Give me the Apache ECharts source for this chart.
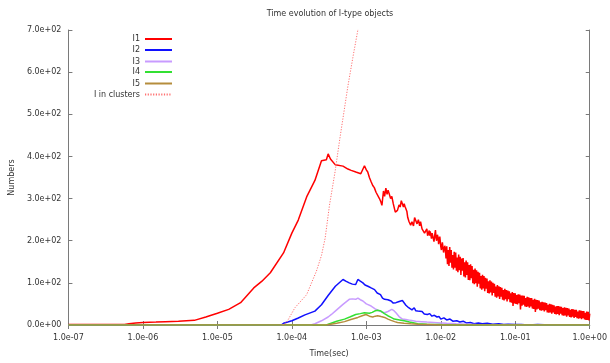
<!DOCTYPE html>
<html>
<head>
<meta charset="utf-8">
<script src="https://cdn.jsdelivr.net/npm/echarts@6/dist/echarts.min.js"></script>
<style>html,body{margin:0;padding:0;background:#fff}#c{width:610px;height:363px}</style>
</head>
<body>
<div id="c"></div>
<script>
const TITLE = 'Time evolution of I-type objects';
const X_NAME = 'Time(sec)';
const Y_NAME = 'Numbers';
const NAMES = ['I1', 'I2', 'I3', 'I4', 'I5', 'I in clusters'];

const I1 = [[1e-7,1],[2e-7,1],[3e-7,1],[5.7e-7,1],[6.5e-7,3],[8e-7,5],[1.0e-6,6],[1.5e-6,7],[2.0e-6,8],[3.0e-6,9],[4.9e-6,11],[7.0e-6,19],[1.0e-5,28],[1.42e-5,37],[2.05e-5,53],[3.08e-5,88],[3.97e-5,104],[5.14e-5,124],[7.73e-5,171],[1.0e-4,218],[1.22e-4,249],[1.58e-4,304],[2.04e-4,343],[2.5e-4,390],[2.91e-4,392],[3.07e-4,406],[3.3e-4,394],[3.84e-4,380],[4.86e-4,377],[5.66e-4,370],[6.26e-4,367],[7.23e-4,363],[8.43e-4,359],[9.44e-4,378],
[1.0e-3,368],[1.045e-3,363],[1.1e-3,350],[1.16e-3,340],[1.22e-3,331],[1.28e-3,326],[1.35e-3,315],[1.42e-3,312],[1.5e-3,300],[1.57e-3,292],[1.62e-3,284],[1.7e-3,318],[1.76e-3,305],[1.83e-3,325],[1.9e-3,310],[1.96e-3,320],[2.03e-3,316],[2.12e-3,300],[2.2e-3,305],[2.3e-3,288],[2.37e-3,284],[2.45e-3,268],[2.55e-3,272],[2.62e-3,272],[2.75e-3,285],[2.85e-3,280],[2.95e-3,295],[3.05e-3,292],[3.15e-3,280],[3.22e-3,288],[3.3e-3,282],[3.38e-3,284],[3.5e-3,270],[3.6e-3,255],[3.75e-3,245],[3.94e-3,237],[4.1e-3,245],[4.3e-3,235],[4.45e-3,255],[4.59e-3,253],[4.8e-3,240],[5.0e-3,250],[5.2e-3,235],[5.35e-3,245],[5.6e-3,228],[5.85e-3,232],[6.05e-3,218],[6.24e-3,214],[6.5e-3,228],[6.65e-3,212],[6.8e-3,210],[7.0e-3,224],[7.1e-3,212],[7.21e-3,222],[7.5e-3,205],[7.65e-3,218],[7.8e-3,215],[8.1e-3,198],[8.3e-3,214],[8.48e-3,225],[8.65e-3,205],[8.8e-3,200],[9.0e-3,214],[9.2e-3,208],[9.35e-3,192],[9.5e-3,190],[9.7e-3,210],[9.88e-3,206],[1.0e-2,186],[1.02e-2,178],[1.05e-2,196],[1.07e-2,195],[1.09e-2,172],[1.1e-2,170],[1.13e-2,188],[1.15e-2,182],[1.175e-2,158],
[0.01202,187],[0.01230,144],[0.01259,178],[0.01288,140],[0.01318,185],[0.01349,148],[0.01380,178],[0.01413,136],[0.01445,166],[0.01479,132],[0.01514,174],[0.01549,136],[0.01585,172],[0.01622,129],[0.01660,160],[0.01698,125],[0.01738,167],[0.01778,130],[0.01820,162],[0.01862,119],[0.01905,158],[0.01950,129],[0.01995,159],[0.02042,115],[0.02089,149],[0.02138,113],[0.02188,153],[0.02239,119],[0.02291,149],[0.02344,107],[0.02399,142],[0.02455,106],[0.02512,144],[0.02570,111],[0.02630,140],[0.02692,99],[0.02754,131],[0.02818,97],[0.02884,134],[0.02951,99],[0.03020,130],[0.03090,91],[0.03162,126],[0.03236,98],[0.03311,124],[0.03388,87],[0.03467,116],[0.03548,84],[0.03631,119],[0.03715,87],[0.03802,116],[0.03890,80],[0.03981,112],[0.04074,86],[0.04169,110],[0.04266,76],[0.04365,104],[0.04467,75],[0.04571,106],[0.04677,77],[0.04786,103],[0.04898,70],[0.05012,100],[0.05129,76],[0.05248,98],[0.05370,67],[0.05495,91],[0.05623,65],[0.05754,95],[0.05888,68],[0.06026,92],[0.06166,62],[0.06310,90],[0.06457,67],[0.06607,88],[0.06761,60],[0.06918,83],[0.07079,58],[0.07244,86],[0.07413,61],[0.07586,83],[0.07762,56],[0.07943,82],[0.08128,61],[0.08318,80],[0.08511,54],[0.08710,75],[0.08913,53],[0.09120,78],[0.09333,45],[0.09550,76],[0.09772,51],
[0.1000,75],[0.1023,50],[0.1047,71],[0.1072,49],[0.1096,73],[0.1122,52],[0.1148,72],[0.1175,37],[0.1202,70],[0.1230,46],[0.1259,70],[0.1288,48],[0.1318,69],[0.1349,44],[0.1380,64],[0.1413,43],[0.1445,67],[0.1479,44],[0.1514,66],[0.1549,41],[0.1585,64],[0.1622,44],[0.1660,64],[0.1698,39],[0.1738,60],[0.1778,38],[0.1820,62],[0.1862,31],[0.1905,60],[0.1950,37],[0.1995,59],[0.2042,39],[0.2089,58],[0.2138,35],[0.2188,54],[0.2239,34],[0.2291,55],[0.2344,35],[0.2399,54],[0.2455,32],[0.2512,53],[0.2570,35],[0.2630,52],[0.2692,30],[0.2754,48],[0.2818,29],[0.2884,50],[0.2951,30],[0.3020,49],[0.3090,27],[0.3162,48],[0.3236,30],[0.3311,47],[0.3388,26],[0.3467,44],[0.3548,25],[0.3631,45],[0.3715,26],[0.3802,45],[0.3890,23],[0.3981,44],[0.4074,27],[0.4169,43],[0.4266,23],[0.4365,40],[0.4467,22],[0.4571,42],[0.4677,23],[0.4786,41],[0.4898,20],[0.5012,40],[0.5129,23],[0.5248,39],[0.5370,19],[0.5495,36],[0.5623,18],[0.5754,38],[0.5888,20],[0.6026,37],[0.6166,17],[0.6310,36],[0.6457,19],[0.6607,36],[0.6761,16],[0.6918,32],[0.7079,15],[0.7244,35],[0.7413,16],[0.7586,34],[0.7762,14],[0.7943,33],[0.8128,16],[0.8318,33],[0.8511,13],[0.8710,29],[0.8913,12],[0.9120,32],[0.9333,12],[0.9550,31],[0.9772,11],[1.000,27]];

const I2 = [[1e-7,0],[7.2e-5,0],[7.73e-5,4],[1.0e-4,10],[1.2e-4,16],[1.5e-4,24],[2.04e-4,33],[2.5e-4,48],[3.07e-4,70],[3.84e-4,92],[4.86e-4,108],[5.3e-4,104],[5.9e-4,100],[6.5e-4,97],[7.2e-4,96],[7.7e-4,108],[8.3e-4,104],[9.0e-4,100],[9.6e-4,95],[1.05e-3,92],[1.16e-3,88],[1.29e-3,84],[1.4e-3,76],[1.55e-3,72],[1.65e-3,64],[1.76e-3,61],[1.83e-3,65],[1.95e-3,60],[2.15e-3,57],[2.3e-3,52],[2.5e-3,53],[2.7e-3,55],[2.85e-3,51],[3.05e-3,58],[3.22e-3,55],[3.4e-3,47],[3.7e-3,41],[3.9e-3,44],[4.1e-3,36],[4.4e-3,41],[4.6e-3,34],[4.9e-3,33],[5.2e-3,30],[5.6e-3,32],[6.0e-3,26],[6.6e-3,25],[7.1e-3,27],[7.6e-3,21],[8.2e-3,23],[8.9e-3,19],[9.5e-3,20],[1.0e-2,14],[1.1e-2,17],[1.2e-2,12],[1.33e-2,14],[1.45e-2,9],[1.64e-2,10],[1.8e-2,7],[2.0e-2,9],[2.2e-2,5],[2.5e-2,6],[2.8e-2,3],[3.2e-2,5],[3.6e-2,3],[4.2e-2,4],[5e-2,2],[6e-2,3],[7e-2,1],[8e-2,2],[0.1,1],[0.12,1],[0.15,0],[0.2,1],[0.3,0],[0.5,0],[1.0,0]];

const I3 = [[1e-7,0],[1.8e-4,0],[2.04e-4,3],[2.5e-4,10],[3.07e-4,19],[3.4e-4,25],[4.0e-4,36],[4.86e-4,49],[5.9e-4,61],[6.5e-4,62],[7.2e-4,61],[7.7e-4,64],[8.3e-4,60],[9.0e-4,57],[1.0e-3,50],[1.16e-3,45],[1.3e-3,39],[1.42e-3,35],[1.6e-3,31],[1.76e-3,29],[1.95e-3,32],[2.2e-3,37],[2.35e-3,34],[2.5e-3,29],[2.75e-3,20],[3.05e-3,14],[3.4e-3,13],[3.9e-3,11],[4.6e-3,9],[5.5e-3,8],[6.5e-3,7],[8.0e-3,6],[1.0e-2,5],[1.2e-2,4],[1.6e-2,3],[2.2e-2,2],[3.0e-2,1],[5e-2,0],[1,0]];

const I4 = [[1e-7,0],[2.9e-4,0],[3.07e-4,3],[4.0e-4,9],[5.1e-4,14],[6.0e-4,19],[7.2e-4,25],[8.3e-4,27],[9.4e-4,29],[9.9e-4,25],[1.1e-3,28],[1.2e-3,30],[1.29e-3,33],[1.42e-3,35],[1.57e-3,33],[1.75e-3,27],[1.94e-3,22],[2.15e-3,18],[2.37e-3,14],[2.8e-3,12],[3.22e-3,10],[3.8e-3,7],[4.9e-3,3],[6.5e-3,2],[1.0e-2,1],[2e-2,0],[1,0]];

const I5 = [[1e-7,0],[2.9e-4,0],[3.07e-4,1],[4.0e-4,4],[5.1e-4,8],[6.2e-4,13],[7.7e-4,18],[8.8e-4,22],[9.9e-4,25],[1.1e-3,21],[1.22e-3,19],[1.32e-3,21],[1.42e-3,22],[1.58e-3,20],[1.76e-3,18],[1.95e-3,14],[2.15e-3,11],[2.4e-3,8],[2.62e-3,6],[3.2e-3,4],[3.94e-3,3],[5e-3,2],[7e-3,1],[1e-2,0],[1,0]];

const ICL = [[7.5e-5,0],[8.5e-5,6],[1.1e-4,41],[1.58e-4,72],[2.14e-4,128],[2.5e-4,165],[2.8e-4,206],[3.2e-4,284],[3.8e-4,363],[4.4e-4,441],[5.0e-4,505],[5.66e-4,567],[6.6e-4,635],[7.7e-4,700],[9e-4,790]];

const COLORS = ['#ff0000', '#1010ff', '#c89bff', '#33e033', '#b58d3c', '#ff7070'];
const SERIES_DATA = [I1, I2, I3, I4, I5, ICL];

const FONT = 'DejaVu Sans';
const TXT = '#333333';
const AX = '#7a7a7a';

function expFmt(v) {
  return Number(v).toExponential(1).replace(/e([+-])(\d)$/, 'e$10$2');
}

const chart = echarts.init(document.getElementById('c'), null, {renderer: 'canvas'});

const legendTops = [35, 46, 57.5, 68, 79.5, 90.5];
const legends = NAMES.map((n, i) => ({
  data: [n],
  orient: 'vertical',
  right: 437,
  top: legendTops[i],
  align: 'right',
  padding: 0,
  itemWidth: 27,
  itemHeight: 9,
  selectedMode: false,
  itemStyle: {opacity: 0, borderWidth: 0},
  textStyle: {fontFamily: FONT, fontSize: 8, color: TXT}
}));

const series = NAMES.map((n, i) => ({
  name: n,
  type: 'line',
  data: SERIES_DATA[i],
  symbol: 'none',
  showSymbol: false,
  clip: true,
  silent: true,
  lineStyle: i === 5
    ? {color: COLORS[i], width: 1, type: [1.2, 1.5]}
    : {color: COLORS[i], width: 1.5},
  itemStyle: {color: COLORS[i]}
}));

const option = {
  animation: false,
  backgroundColor: '#fff',
  title: {
    text: TITLE,
    left: 325,
    textAlign: 'center',
    top: 5,
    textStyle: {fontFamily: FONT, fontSize: 8, fontWeight: 'normal', color: TXT}
  },
  legend: legends,
  grid: {left: 68, top: 30, width: 526, height: 297, containLabel: false},
  xAxis: [{
    type: 'log', logBase: 10, min: 1e-7, max: 1,
    name: X_NAME, nameLocation: 'middle', nameGap: 25,
    nameTextStyle: {fontFamily: FONT, fontSize: 8, color: TXT},
    axisLine: {lineStyle: {color: AX, width: 1}},
    axisTick: {inside: true, length: 4, lineStyle: {color: AX}},
    axisLabel: {fontFamily: FONT, fontSize: 8, color: TXT, margin: 9, formatter: expFmt},
    splitLine: {show: false}
  }, {
    type: 'log', logBase: 10, min: 1e-7, max: 1, position: 'top',
    axisLine: {lineStyle: {color: AX, width: 1}},
    axisTick: {inside: true, length: 4, lineStyle: {color: AX}},
    axisLabel: {show: false},
    splitLine: {show: false}
  }],
  yAxis: [{
    type: 'value', min: 0, max: 700, interval: 100,
    name: Y_NAME, nameLocation: 'middle', nameGap: 45,
    nameTextStyle: {fontFamily: FONT, fontSize: 8, color: TXT},
    axisLine: {show: true, lineStyle: {color: AX, width: 1}},
    axisTick: {show: true, inside: true, length: 4, lineStyle: {color: AX}},
    axisLabel: {fontFamily: FONT, fontSize: 8, color: TXT, margin: 7, formatter: expFmt},
    splitLine: {show: false}
  }, {
    type: 'value', min: 0, max: 700, interval: 100, position: 'right',
    axisLine: {show: true, lineStyle: {color: AX, width: 1}},
    axisTick: {show: true, inside: true, length: 4, lineStyle: {color: AX}},
    axisLabel: {show: false},
    splitLine: {show: false}
  }],
  series: series
};
chart.setOption(option);
</script>
</body>
</html>
